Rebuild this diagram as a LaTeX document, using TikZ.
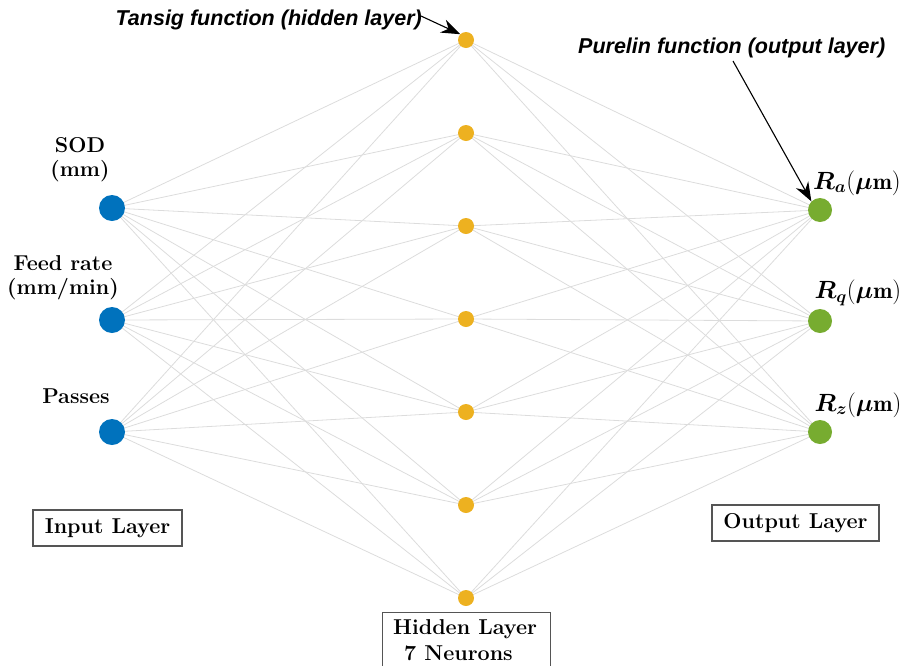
\documentclass[tikz,border=0pt]{standalone}
\usepackage{amsmath,bm}
\usepackage{fontspec}
\newfontfamily\annfont{Liberation Sans}
\usetikzlibrary{arrows.meta}
\definecolor{inblue}{HTML}{0072BD}
\definecolor{hidyel}{HTML}{EDB120}
\definecolor{outgrn}{HTML}{77AC30}
\definecolor{wire}{HTML}{DCDCDC}
\definecolor{boxgray}{HTML}{555555}
\tikzset{
  innode/.style={circle,fill=inblue,inner sep=0pt,minimum size=26pt},
  hidnode/.style={circle,fill=hidyel,inner sep=0pt,minimum size=16pt},
  outnode/.style={circle,fill=outgrn,inner sep=0pt,minimum size=24pt},
  conn/.style={draw=wire,line width=0.8pt},
  lab/.style={font=\fontsize{21.5}{24}\selectfont\bfseries,align=center,inner sep=0pt},
  mlab/.style={font=\fontsize{23}{24}\selectfont\bfseries,inner sep=0pt},
  layerbox/.style={draw=boxgray,line width=1.3pt,font=\fontsize{21.5}{24}\selectfont\bfseries,inner sep=0pt},
  ann/.style={font=\annfont\fontsize{21.5}{24}\selectfont\bfseries\itshape,inner sep=0pt},
  annarrow/.style={draw=black,line width=1.1pt,-{Stealth[length=19pt,width=14pt]}}
}
\begin{document}
\begin{tikzpicture}[x=1pt,y=-1pt]
\useasboundingbox (0,0) rectangle (906,665);
\clip (0,0) rectangle (906,665);
% node positions
\foreach \i/\y in {1/208,2/320,3/432} \coordinate (I\i) at (112,\y);
\foreach \i/\y in {1/40,2/133,3/226,4/319,5/412,6/505,7/598} \coordinate (H\i) at (466,\y);
\foreach \i/\y in {1/210,2/321,3/432} \coordinate (O\i) at (820,\y);
% connections
\foreach \i in {1,2,3} \foreach \j in {1,...,7} \draw[conn] (I\i) -- (H\j);
\foreach \j in {1,...,7} \foreach \k in {1,2,3} \draw[conn] (H\j) -- (O\k);
% nodes
\foreach \i in {1,2,3} \node[innode] (in\i) at (I\i) {};
\foreach \j in {1,...,7} \node[hidnode] (h\j) at (H\j) {};
\foreach \k in {1,2,3} \node[outnode] (out\k) at (O\k) {};
% input labels
\node[lab] (l1) at (80,160) {SOD\\(mm)};
\node[lab] (l2) at (63,278) {Feed rate\\(mm/min)};
\node[lab] (l3) at (76,396) {Passes};
% output labels
\node[mlab] (r1) at (857,183) {$\bm{R_a}(\bm{\mu}\mathbf{m})$};
\node[mlab] (r2) at (858,293) {$\bm{R_q}(\bm{\mu}\mathbf{m})$};
\node[mlab] (r3) at (858,405) {$\bm{R_z}(\bm{\mu}\mathbf{m})$};
% layer boxes
\node[layerbox,minimum width=149pt,minimum height=36pt] (ib) at (107.5,528) {Input Layer};
\node[layerbox,minimum width=167pt,minimum height=36pt] (ob) at (795.5,523) {Output Layer};
\node[layerbox,minimum width=168pt,minimum height=70pt,anchor=north west] (hb) at (382,612) {};
\node[lab,anchor=west] (hbt1) at (393,629) {Hidden Layer};
\node[lab,anchor=west] (hbt2) at (404,653) {7 Neurons};
% annotations
\node[ann,anchor=east] (ta) at (422,20) {Tansig function (hidden layer)};
\node[ann,anchor=west] (pa) at (578,48) {Purelin function (output layer)};
\coordinate (tastart) at (421,16);
\coordinate (pastart) at (733,61);
\draw[annarrow] (tastart) -- (h1.north west);
\draw[annarrow] (pastart) -- (out1.north west);
\end{tikzpicture}
\end{document}
